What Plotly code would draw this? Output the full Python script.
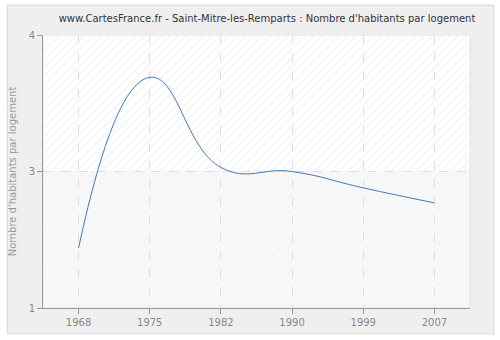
import plotly.graph_objects as go

years = ["1968", "1975", "1982", "1990", "1999", "2007"]
values = [2.44, 3.69, 3.03, 3.00, 2.88, 2.77]
ytick_vals = [2, 3, 4]
ytick_text = ["1", "3", "4"]

idx = list(range(len(years)))
fig = go.Figure()

# hatched background (upper part stronger, lower part faint)
fig.add_trace(go.Scatter(
    x=[-0.5, 5.5, 5.5, -0.5, -0.5], y=[3, 3, 4, 4, 3], mode="none", fill="toself", fillcolor="rgba(0,0,0,0)",
    fillpattern=dict(shape="/", fgcolor="#e6e6e6", bgcolor="rgba(0,0,0,0)", size=6, solidity=0.2),
    hoverinfo="skip", showlegend=False))
fig.add_trace(go.Scatter(
    x=[-0.5, 5.5, 5.5, -0.5, -0.5], y=[2, 2, 3, 3, 2], mode="none", fill="toself", fillcolor="rgba(0,0,0,0)",
    fillpattern=dict(shape="/", fgcolor="#efefef", bgcolor="rgba(0,0,0,0)", size=6, solidity=0.2),
    hoverinfo="skip", showlegend=False))

fig.add_trace(go.Scatter(
    x=idx, y=values, mode="lines", line=dict(color="#4a78ad", width=1, shape="spline", smoothing=1.3),
    hoverinfo="skip", showlegend=False))

L, R, T, B = 41, 30, 35, 31
W, H = 500, 340
pw, ph = W - L - R, H - T - B

def px(x):
    return (x - L) / pw

def py(y):
    return (H - B - y) / ph

fig.add_shape(type="rect", xref="paper", yref="paper", x0=px(5), x1=px(494), y0=py(335), y1=py(5),
              line=dict(color="#d8d8d8", width=1), fillcolor="#efefef", layer="below")
fig.add_shape(type="rect", xref="paper", yref="paper", x0=0, x1=1, y0=0.5, y1=1,
              line=dict(width=0), fillcolor="#ffffff", layer="below")
fig.add_shape(type="rect", xref="paper", yref="paper", x0=0, x1=1, y0=0, y1=0.5,
              line=dict(width=0), fillcolor="#f8f8f8", layer="below")
fig.add_shape(type="rect", xref="paper", yref="paper", x0=0, x1=1, y0=0, y1=1,
              line=dict(color="#e4e4e4", width=1), fillcolor="rgba(0,0,0,0)", layer="below")

fig.update_layout(
    width=W, height=H, margin=dict(l=L, r=R, t=T, b=B),
    paper_bgcolor="#ffffff", plot_bgcolor="rgba(0,0,0,0)",
    font=dict(family="DejaVu Sans, Verdana, sans-serif", size=10, color="#888888"),
    title=dict(text="www.CartesFrance.fr - Saint-Mitre-les-Remparts : Nombre d'habitants par logement",
               xref="container", x=267 / W, xanchor="center", yref="container", y=1 - 18 / H, yanchor="middle",
               font=dict(size=10, color="#333333")),
    xaxis=dict(range=[-0.5, 5.5], tickvals=idx, ticktext=years, showgrid=True, gridcolor="#dedede",
               griddash="dash", gridwidth=1, showline=True, linecolor="#999999", ticks="outside",
               ticklen=5, tickcolor="#999999", zeroline=False, fixedrange=True,
               tickfont=dict(size=10, color="#888888")),
    yaxis=dict(range=[2, 4], tickvals=ytick_vals, ticktext=ytick_text, showgrid=True, gridcolor="#dedede",
               griddash="dash", showline=True, linecolor="#999999", ticks="outside", ticklen=5,
               tickcolor="#999999", zeroline=False,
               title=dict(text="Nombre d'habitants par logement", font=dict(size=10, color="#999999"), standoff=10),
               tickfont=dict(size=10, color="#888888")),
)

fig.write_html("out.html")
